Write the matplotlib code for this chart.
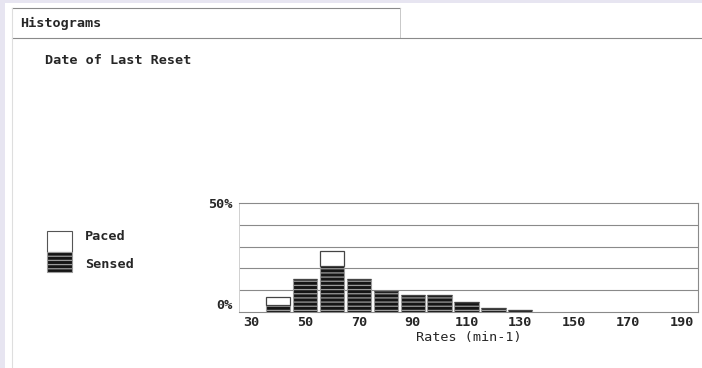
import matplotlib.pyplot as plt
from matplotlib.patches import Rectangle
from matplotlib.lines import Line2D

# histogram bins (rate, min-1) and share of beats in %
rates = [40, 50, 60, 70, 80, 90, 100, 110, 120, 130]
sensed = [3.3, 15, 21, 15, 9.7, 7.8, 7.8, 4.6, 2.0, 0.8]
paced = [3.6, 0, 7, 0, 0, 0, 0, 0, 0, 0]
xticks = [30, 50, 70, 90, 110, 130, 150, 170, 190]

W, H = 702, 368
plt.rcParams['font.family'] = ['DejaVu Sans Mono']
plt.rcParams['font.weight'] = 'bold'
plt.rcParams['hatch.linewidth'] = 0.9
ink = '#262626'
line = '#8a8a8a'
fs = 9.7

fig = plt.figure(figsize=(W / 100, H / 100), dpi=100)
fig.patch.set_facecolor('#e7e5f1')


def px(x, y):
    return x / W, 1 - y / H


# white page behind everything, header box on top
fig.patches.append(Rectangle(px(5, H), (W - 5) / W, (H - 3) / H, zorder=-5,
                             transform=fig.transFigure, facecolor='white', edgecolor='none'))
fig.add_artist(Line2D([12 / W, 400 / W], [1 - 8 / H] * 2, color=line, lw=0.8))
fig.add_artist(Line2D([400 / W] * 2, [1 - 8 / H, 1 - 38 / H], color='#c8c8c8', lw=0.7))
fig.add_artist(Line2D([12 / W, 1], [1 - 38 / H] * 2, color=line, lw=0.8))
fig.add_artist(Line2D([12 / W] * 2, [1 - 8 / H, 0], color='#dedede', lw=0.8))

fig.text(*px(20, 23), 'Histograms', fontsize=fs, color=ink, va='center')
fig.text(*px(45, 61), 'Date of Last Reset', fontsize=fs, color=ink, va='center')

# legend swatches
fig.patches.append(Rectangle(px(47, 252), 25 / W, 21 / H, transform=fig.transFigure,
                             facecolor='white', edgecolor='#555555', lw=0.8))
fig.patches.append(Rectangle(px(47, 272), 25 / W, 20 / H, transform=fig.transFigure,
                             facecolor='#151515', edgecolor='#9a9a9a', hatch='----', lw=0.8))
fig.text(*px(85, 237), 'Paced', fontsize=fs, color=ink, va='center')
fig.text(*px(85, 264), 'Sensed', fontsize=fs, color=ink, va='center')

# histogram axes
ax = fig.add_axes([239 / W, 1 - 312 / H, (698 - 239) / W, (312 - 203) / H])
ax.set_xlim(25.5, 196)
ax.set_ylim(0, 50)
ax.set_facecolor('white')

ax.bar(rates, sensed, width=9, color='#151515', edgecolor='#9a9a9a', hatch='----', lw=0.8, zorder=3)
ax.bar(rates, paced, width=9, bottom=sensed, color='white', edgecolor='#444444', lw=0.9, zorder=3)

for y in [10, 20, 30, 40]:
    ax.axhline(y, color=line, lw=0.8, zorder=1)
for side in ['top', 'right', 'bottom']:
    ax.spines[side].set_color(line)
    ax.spines[side].set_linewidth(0.8)
ax.spines['left'].set_color('#d0d0d0')
ax.spines['left'].set_linewidth(0.7)

ax.set_xticks(xticks)
ax.set_xticklabels([str(t) for t in xticks], fontsize=fs, color=ink)
ax.set_yticks([0, 50])
ax.set_yticklabels(['0%', '50%'], fontsize=fs, color=ink)
ax.get_yticklabels()[0].set_va('bottom')
ax.tick_params(length=0, pad=5)
ax.tick_params(axis='x', pad=3)
ax.set_xlabel('Rates (min-1)', fontsize=fs, color=ink, labelpad=1)

fig.savefig('out.png', dpi=100, facecolor=fig.get_facecolor())
